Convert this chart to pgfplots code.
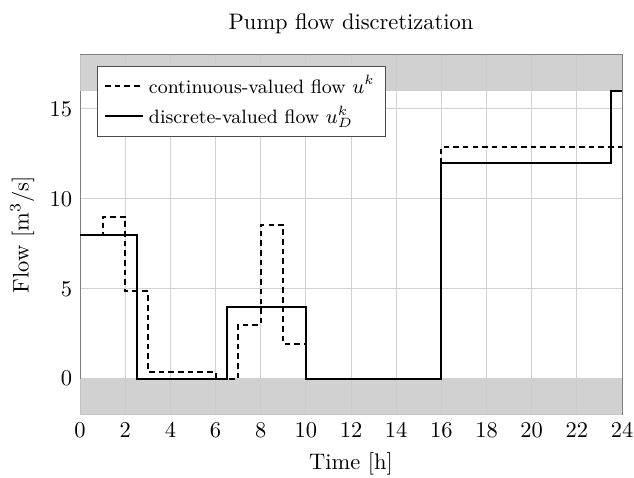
\documentclass[border=0pt]{standalone}
\usepackage{pgfplots}
\pgfplotsset{compat=1.18}
\begin{document}
\begin{tikzpicture}
\begin{axis}[
  name=ax,
  scale only axis,
  width=241pt, height=160pt,
  xmin=0, xmax=24, ymin=-2, ymax=18,
  xtick={0,2,...,24}, ytick={0,5,10,15},
  grid=major,
  grid style={black!18, line width=0.4pt},
  axis line style={black!50},
  tick style={draw=none},
  title={Pump flow discretization},
  xlabel={Time [h]},
  ylabel={Flow [m$^3$/s]},
  legend style={at={(0.031,0.969)}, anchor=north west, draw=black!70, fill=white, legend cell align=left, font=\fontsize{8.6}{10.3}\selectfont},
]
\addplot[fill=black!20, draw=none, fill opacity=0.9, forget plot] coordinates {(0,-2)(24,-2)(24,0)(0,0)} -- cycle;
\addplot[fill=black!20, draw=none, fill opacity=0.9, forget plot] coordinates {(0,16)(24,16)(24,18)(0,18)} -- cycle;
\addplot[const plot, black, line width=0.9pt, dash pattern=on 2.5pt off 1.8pt] coordinates {
(0,8)(1,9)(2,4.85)(3,0.4)(6,0)(7,3)(8,8.55)(9,1.93)(10,0)(16,12.9)(24,12.9)};
\addlegendentry{continuous-valued flow $u^k$}
\addplot[const plot, black, line width=0.9pt] coordinates {
(0,8)(2.5,0)(6.5,4)(10,0)(16,12)(23.5,16)(24,16)};
\addlegendentry{discrete-valued flow $u_D^k$}
\end{axis}
\pgfresetboundingbox
\path (ax.south west) ++(-35.6pt,-28pt) (ax.north east) ++(5.3pt,24.4pt);
\end{tikzpicture}
\end{document}
